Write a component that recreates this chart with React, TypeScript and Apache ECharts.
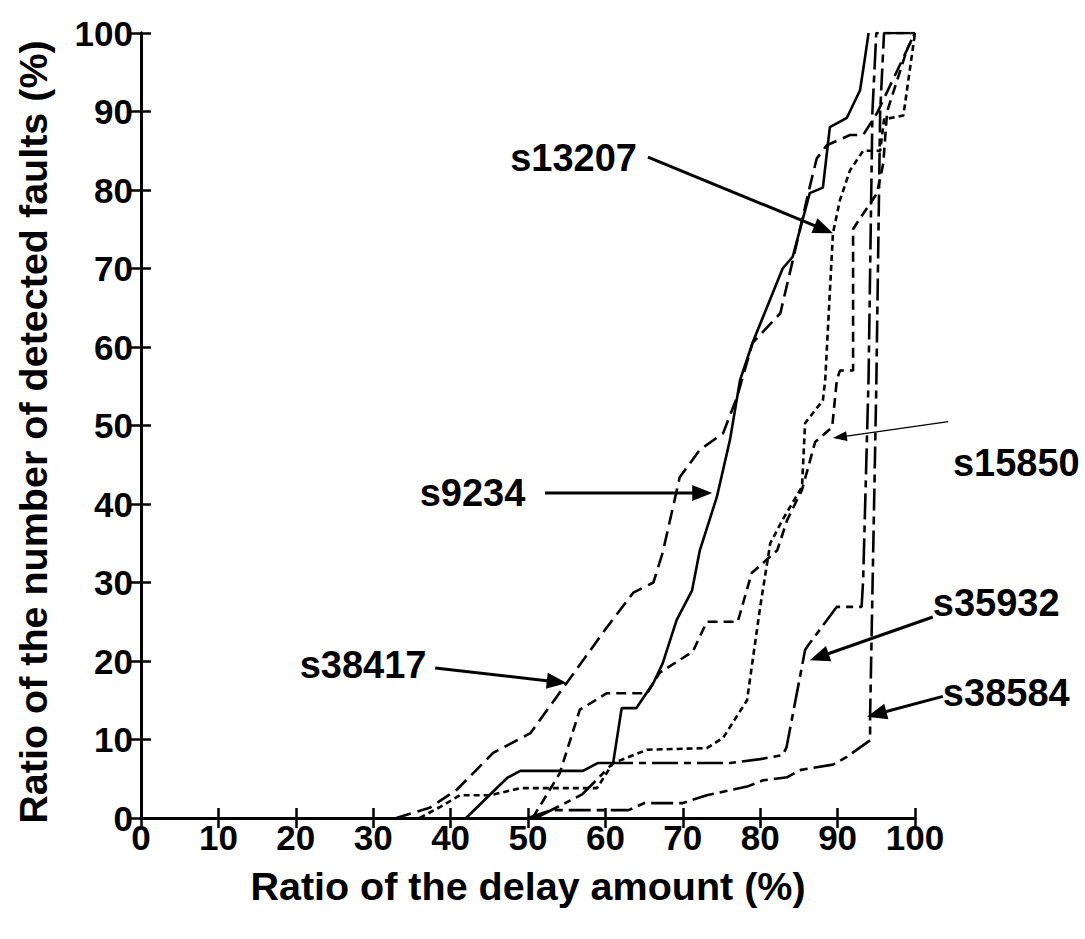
import React, { useEffect, useRef } from "react";
import * as echarts from "echarts";

const seriesNames = ["s9234", "s38417", "s13207", "s15850", "s35932", "s38584"];

const s9234: number[][] = [
  [42, 0], [47.3, 5.1], [49, 6], [57.1, 6], [59, 7], [61, 7], [62.1, 14], [64, 14],
  [66.2, 17.2], [67.4, 19.7], [69.2, 25.2], [71.2, 29], [72.2, 34.1], [74.4, 40.9],
  [76.1, 48.2], [77.4, 55.8], [79, 60.5], [82.9, 70], [84.2, 71.5], [86.4, 79.6],
  [88.1, 80.3], [89, 88], [91.2, 89.2], [92.9, 92.7], [93.5, 96.6], [94, 100],
];

const s38417: number[][] = [
  [33, 0], [37.3, 1.3], [40.8, 3.6], [45.5, 8.3], [50.3, 10.8], [55, 17.2], [60.2, 24.3],
  [63.6, 28.7], [66.2, 30], [67.4, 33.8], [69.6, 43.4], [72.2, 46.9], [75.2, 49],
  [77, 53.6], [79, 60.5], [82.6, 64.3], [84.2, 71], [86.4, 80.4], [87.3, 84], [88.6, 85.7],
  [91.6, 87], [93.3, 87], [95.1, 89.8], [100, 100],
];

const s13207: number[][] = [
  [36, 0], [39, 1.6], [41.2, 2.9], [45.1, 2.9], [49, 3.8], [58.9, 3.8], [61, 7],
  [65.4, 8.7], [73.1, 8.9], [75.2, 10.2], [78.3, 15], [80, 26.9], [81.3, 35], [82.9, 38],
  [85.4, 42.2], [85.8, 50.3], [88.1, 53.2], [88.4, 55.8], [89.4, 74.5], [90.3, 78.7],
  [91.6, 82.5], [93.3, 85], [95.5, 85], [96, 89], [98.5, 89.5], [100, 100],
];

const s15850: number[][] = [
  [50.6, 0], [54.1, 5.7], [56.7, 13.8], [60.2, 15.9], [65.4, 15.9], [67, 18.5],
  [71.3, 21.2], [73.1, 25], [77.1, 25], [78.9, 31.2], [82.2, 34.1], [83.5, 38],
  [85.4, 41.8], [87.1, 47.9], [89.3, 49.8], [89.9, 55.8], [90.3, 57], [92, 57],
  [92, 75], [92.5, 75.8], [95.1, 79.6], [95.9, 83.4], [96.4, 90], [99, 98], [100, 100],
];

const s35932: number[][] = [
  [51, 0], [54, 1.5], [57, 3], [59, 5], [61, 7], [76.1, 7], [80, 7.5], [82.9, 8],
  [83.4, 9], [85.8, 21.4], [86.2, 22], [89.9, 26.9], [93.1, 26.9], [93.3, 30.3],
  [94, 56], [94.5, 90], [95, 100], [100, 100],
];

const s38584: number[][] = [
  [50, 0], [53, 1], [63, 1], [65, 1.9], [70, 1.9], [73.1, 2.9], [78.3, 4], [80.4, 4.8],
  [83.5, 5.2], [85.1, 6.1], [89.4, 6.8], [91.2, 7.8], [94.2, 9.9], [94.2, 13],
  [95, 55], [95.5, 90], [96, 100], [100, 100],
];

const seriesData = [s9234, s38417, s13207, s15850, s35932, s38584];
const dashes: (number[] | "solid")[] = ["solid", [15, 7], [6, 4], [10, 6], [26, 6, 7, 6], [22, 6, 8, 6]];

// annotation positions in data units: text left/center, arrow start, arrow tip
const annLabels = ["s13207", "s9234", "s38417", "s15850", "s35932", "s38584"];
const annText: number[][] = [[47.7, 84.1], [36.0, 41.4], [20.5, 19.5], [104.9, 45.2], [102.3, 27.4], [103.6, 15.9]];
const annFrom: number[][] = [[65.5, 84.2], [52.2, 41.4], [38.0, 19.1], [104.3, 50.5], [102.3, 25.6], [103.6, 15.5]];
const annTo: number[][] = [[89.4, 74.5], [73.8, 41.4], [55.0, 17.2], [89.4, 48.4], [86.4, 20.1], [93.8, 12.9]];
const annThin = [false, false, false, true, false, false];

const yTitle = "Ratio of the number of detected faults (%)";
const xTitle = "Ratio of the delay amount (%)";

const FONT = "'Liberation Sans', Arial, sans-serif";

export default function App() {
  const ref = useRef<HTMLDivElement>(null);
  useEffect(() => {
    if (!ref.current) return;
    const chart = echarts.init(ref.current, null, { renderer: "svg" });
    const axisLine = { show: true, lineStyle: { color: "#000", width: 3 } };
    const axisTick = { show: true, inside: true, length: 10, lineStyle: { color: "#000", width: 2.5 } };
    const option: any = {
      animation: false,
      backgroundColor: "#fff",
      grid: { left: 141, top: 33, right: 170, bottom: 121, containLabel: false },
      xAxis: [
        {
          type: "value", min: 0, max: 100, interval: 10, position: "bottom",
          axisLine, axisTick, splitLine: { show: false },
          axisLabel: { fontSize: 35, fontWeight: "bold", fontFamily: FONT, color: "#000", margin: 2 },
          name: xTitle, nameLocation: "middle", nameGap: 48,
          nameTextStyle: { fontSize: 39.5, fontWeight: "bold", fontFamily: FONT, color: "#000" },
        },
        {
          type: "value", min: 0, max: 100, interval: 10, position: "top",
          axisLine, axisTick, splitLine: { show: false }, axisLabel: { show: false },
        },
      ],
      yAxis: [
        {
          type: "value", min: 0, max: 100, interval: 10, position: "left",
          axisLine, axisTick, splitLine: { show: false },
          axisLabel: { fontSize: 35, fontWeight: "bold", fontFamily: FONT, color: "#000", margin: 8 },
        },
        {
          type: "value", min: 0, max: 100, interval: 10, position: "right",
          axisLine, axisTick, splitLine: { show: false }, axisLabel: { show: false },
        },
      ],
      series: seriesNames.map((name, i) => ({
        name, type: "line", data: seriesData[i], showSymbol: false, symbol: "none",
        xAxisIndex: 0, yAxisIndex: 0, clip: true,
        lineStyle: { color: "#000", width: 2.6, type: dashes[i] as any },
      })),
    };
    chart.setOption(option);

    const graphics: any[] = [
      {
        type: "text", x: 33, y: 432, rotation: Math.PI / 2,
        style: { text: yTitle, fontSize: 39.5, fontWeight: "bold", fontFamily: FONT, fill: "#000", align: "center", verticalAlign: "middle" },
      },
    ];
    annLabels.forEach((lab, i) => {
      const tp = chart.convertToPixel({ gridIndex: 0 }, annText[i]) as number[];
      const p0 = chart.convertToPixel({ gridIndex: 0 }, annFrom[i]) as number[];
      const p1 = chart.convertToPixel({ gridIndex: 0 }, annTo[i]) as number[];
      graphics.push({
        type: "text", x: tp[0], y: tp[1],
        style: { text: lab, fontSize: 38, fontWeight: "bold", fontFamily: FONT, fill: "#000", align: "left", verticalAlign: "middle" },
      });
      const thin = annThin[i];
      const headLen = thin ? 14 : 20;
      const headW = thin ? 5 : 8;
      const dx = p1[0] - p0[0], dy = p1[1] - p0[1];
      const L = Math.sqrt(dx * dx + dy * dy);
      const ux = dx / L, uy = dy / L;
      const bx = p1[0] - ux * headLen, by = p1[1] - uy * headLen;
      const nx = -uy, ny = ux;
      graphics.push({
        type: "line", shape: { x1: p0[0], y1: p0[1], x2: bx + ux * 2, y2: by + uy * 2 },
        style: { stroke: "#000", lineWidth: thin ? 1.3 : 3 },
      });
      graphics.push({
        type: "polygon",
        shape: { points: [[p1[0], p1[1]], [bx + nx * headW, by + ny * headW], [bx - nx * headW, by - ny * headW]] },
        style: { fill: "#000" },
      });
    });
    chart.setOption({ graphic: graphics });
    return () => chart.dispose();
  }, []);
  return <div ref={ref} style={{ position: "absolute", left: 0, top: 0, width: 1085, height: 939, background: "#fff" }} />;
}
